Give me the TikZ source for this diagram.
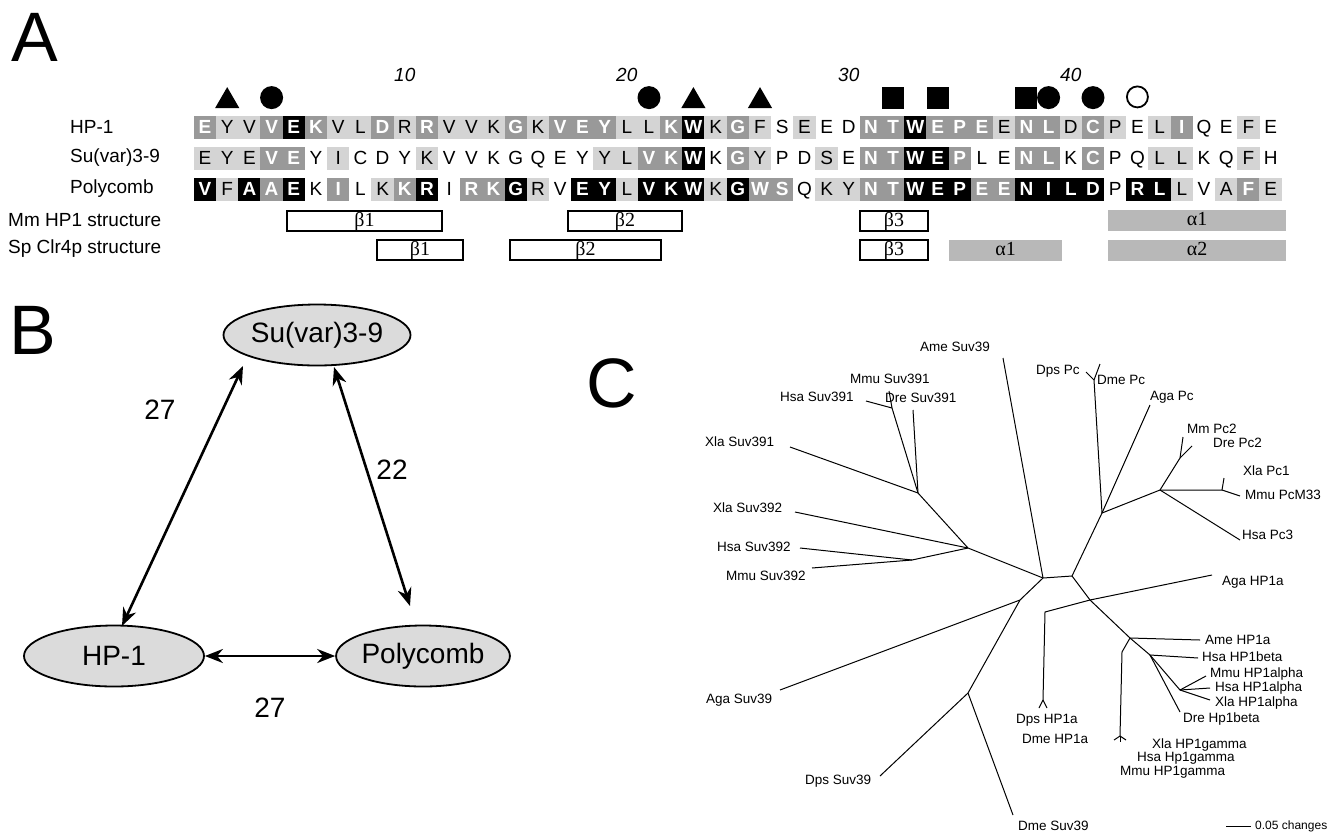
\documentclass[tikz,border=0pt]{standalone}
\usepackage{fontspec}
\setmainfont{Liberation Sans}
\newfontfamily\greekfont{Liberation Serif}
\usetikzlibrary{positioning,shapes.geometric,arrows.meta}
\definecolor{lightres}{gray}{0.83}
\definecolor{midres}{gray}{0.60}
\definecolor{helixgray}{gray}{0.72}
\definecolor{ovalgray}{gray}{0.86}
\tikzset{
cell/.style={rectangle, inner sep=0pt, minimum width=22.4pt, minimum height=23pt, text height=13.7pt, text depth=0pt, font=\fontsize{19}{20}\selectfont},
resW/.style={cell},
resL/.style={cell, fill=lightres},
resM/.style={cell, fill=midres, text=white, font=\fontsize{19}{20}\selectfont\bfseries},
resB/.style={cell, fill=black, text=white, font=\fontsize{19}{20}\selectfont\bfseries},
rowlabel/.style={anchor=west, inner sep=0pt, font=\fontsize{19}{22}\selectfont},
numlabel/.style={font=\fontsize{19}{22}\selectfont\itshape},
panel/.style={inner sep=0pt, font=\fontsize{70}{70}\selectfont},
tri/.style={regular polygon, regular polygon sides=3, fill=black, inner sep=0pt, minimum size=28pt},
dot/.style={circle, fill=black, inner sep=0pt, minimum size=23pt},
ring/.style={circle, draw=black, line width=1.8pt, inner sep=0pt, minimum size=21pt},
blk/.style={rectangle, fill=black, inner sep=0pt, minimum size=22pt},
strand/.style={rectangle, draw=black, line width=2pt, inner sep=0pt, minimum height=20pt, text height=13pt, text depth=2pt, font=\greekfont\fontsize{20}{20}\selectfont},
helix/.style={rectangle, fill=helixgray, inner sep=0pt, minimum height=21pt, text height=13pt, text depth=2pt, font=\greekfont\fontsize{20}{20}\selectfont},
protein/.style={ellipse, draw=black, line width=1.8pt, fill=ovalgray, inner sep=0pt, minimum height=61pt, font=\fontsize{28}{30}\selectfont},
link/.style={line width=2.6pt, {Stealth[length=18pt,width=14pt]}-{Stealth[length=18pt,width=14pt]}},
score/.style={font=\fontsize{28}{30}\selectfont},
branch/.style={draw, line width=1pt},
leaf/.style={anchor=west, inner sep=0pt, font=\fontsize{13.5}{14}\selectfont},
}

\begin{document}
\begin{tikzpicture}[x=1pt, y=-1pt]
\useasboundingbox (0,0) rectangle (1333,836);

% ---- A: alignment
\node[panel] (pA) at (35,37) {A};

\node[rowlabel] (lhp) at (70,127) {HP-1};
\node[rowlabel] (lsu) at (70,158) {Su(var)3-9};
\node[rowlabel] (lpc) at (70,189) {Polycomb};
\node[rowlabel] (lmm) at (8,220) {Mm HP1 structure};
\node[rowlabel] (lsp) at (8,249) {Sp Clr4p structure};

\foreach \r/\s [count=\i] in {E/M,Y/L,V/L,V/M,E/B,K/M,V/L,L/L,D/M,R/L,R/M,V/L,V/L,K/L,G/M,K/L,V/M,E/M,Y/M,L/L,L/L,K/M,W/B,K/L,G/M,F/L,S/W,E/L,E/W,D/W,N/M,T/M,W/B,E/M,P/M,E/M,E/L,N/M,L/M,D/L,C/M,P/L,E/W,L/L,I/M,Q/W,E/W,F/L,E/W}
  \node[res\s] (hp\i) at ({205+(\i-1)*22.2},127) {\r};
\foreach \r/\s [count=\i] in {E/L,Y/L,E/L,V/M,E/M,Y/W,I/L,C/W,D/W,Y/W,K/L,V/W,V/W,K/W,G/W,Q/W,E/W,Y/W,Y/L,L/L,V/M,K/M,W/B,K/W,G/M,Y/L,P/W,D/W,S/L,E/W,N/M,T/M,W/B,E/B,P/M,L/W,E/W,N/M,L/M,K/W,C/M,P/W,Q/W,L/L,L/L,K/W,Q/W,F/L,H/W}
  \node[res\s] (su\i) at ({205+(\i-1)*22.2},158) {\r};
\foreach \r/\s [count=\i] in {V/B,F/L,A/B,A/M,E/B,K/W,I/M,L/W,K/L,K/M,R/B,I/W,R/M,K/M,G/B,R/L,V/W,E/B,Y/B,L/L,V/B,K/B,W/B,K/L,G/B,W/M,S/M,Q/W,K/L,Y/L,N/M,T/M,W/B,E/B,P/B,E/M,E/M,N/B,I/B,L/B,D/B,P/W,R/B,L/B,L/L,V/W,A/L,F/M,E/L}
  \node[res\s] (pc\i) at ({205+(\i-1)*22.2},189) {\r};

% position numbers
\foreach \n in {10,20,30,40}
  \node[numlabel] (n\n) at ([yshift=52pt]hp\n) {\n};

% marked residues
\node[tri, above=7pt of hp2] (m2) {};
\node[dot, above=6pt of hp4] (m4) {};
\node[dot, above=6pt of hp21] (m21) {};
\node[tri, above=7pt of hp23] (m23) {};
\node[tri, above=7pt of hp26] (m26) {};
\node[blk, above=6pt of hp32] (m32) {};
\node[blk, above=6pt of hp34] (m34) {};
\node[blk, above=6pt of hp38] (m38) {};
\node[dot, above=6pt of hp39] (m39) {};
\node[dot, above=6pt of hp41] (m41) {};
\node[ring, above=7pt of hp43] (m43) {};

% secondary structure
\node[strand, minimum width=155pt] (mmb1) at (364.5,221) {β1};
\node[strand, minimum width=114pt] (mmb2) at (625,221) {β2};
\node[strand, minimum width=68pt] (mmb3) at (894,221) {β3};
\node[helix, minimum width=178pt] (mma1) at (1197,220) {α1};
\node[strand, minimum width=86pt] (spb1) at (420,250) {β1};
\node[strand, minimum width=151pt] (spb2) at (585.5,250) {β2};
\node[strand, minimum width=68pt] (spb3) at (894,250) {β3};
\node[helix, minimum width=113pt] (spa1) at (1005.5,250) {α1};
\node[helix, minimum width=178pt] (spa2) at (1197,250) {α2};

% ---- B: interaction scores
\node[panel] (pB) at (33,330) {B};
\node[protein, minimum width=145pt] (suv) at (317,335) {Su(var)3-9};
\node[protein, minimum width=180pt] (hp) at (114,656) {HP-1};
\node[protein, minimum width=160pt] (pcg) at (423,656) {Polycomb};
\coordinate (suvL) at (243,366);
\coordinate (suvR) at (334,367);
\coordinate (hpT) at (122,626);
\coordinate (pcgT) at (410,606);
\draw[link] (suvL) -- (hpT);
\draw[link] (suvR) -- (pcgT);
\draw[link] (hp.east) -- (pcg.west);
\node[score] (s1) at (160,410) {27};
\node[score] (s2) at (392,470) {22};
\node[score] (s3) at (270,708) {27};

% ---- C: tree
\node[panel] (pC) at (612,383) {C};
\coordinate (c0) at (1043,578);
\coordinate (c1) at (1072,576);
\coordinate (p0) at (1102,513);
\coordinate (p1) at (1094,380);
\coordinate (p3) at (1160,490);
\coordinate (p4) at (1180,458);
\coordinate (p5) at (1222,490);
\coordinate (h0) at (1090,600);
\coordinate (h1) at (1045,612);
\coordinate (h2) at (1130,638);
\coordinate (h3) at (1150,655);
\coordinate (h4) at (1180,690);
\coordinate (h5) at (1122,652);
\coordinate (h6) at (1120,736);
\coordinate (h7) at (1043,700);
\coordinate (s0) at (968,548);
\coordinate (s1) at (918,493);
\coordinate (s2) at (892,408);
\coordinate (s3) at (912,560);
\coordinate (s4) at (1020,600);
\coordinate (s5) at (968,693);
% tips
\coordinate (tAmeS) at (1003,358);
\coordinate (tDpsPc) at (1086,372);
\coordinate (tDmePc) at (1100,364);
\coordinate (tAgaPc) at (1150,405);
\coordinate (tMmPc) at (1183,437);
\coordinate (tDrePc) at (1192,446);
\coordinate (tXlaPc) at (1224,478);
\coordinate (tMmuPc) at (1240,496);
\coordinate (tHsaPc) at (1240,540);
\coordinate (tAgaH) at (1212,575);
\coordinate (tAmeH) at (1200,640);
\coordinate (tHsaHb) at (1198,658);
\coordinate (tMmuHa) at (1206,676);
\coordinate (tHsaHa) at (1210,688);
\coordinate (tXlaHa) at (1210,700);
\coordinate (tDreHb) at (1180,712);
\coordinate (tDpsH) at (1039,708);
\coordinate (tDmeH) at (1047,708);
\coordinate (tXlaHg) at (1126,740);
\coordinate (tHsaHg) at (1120,742);
\coordinate (tMmuHg) at (1114,740);
\coordinate (tMmuS1) at (889,391);
\coordinate (tHsaS1) at (866,401);
\coordinate (tDreS1) at (913,410);
\coordinate (tXlaS1) at (790,447);
\coordinate (tXlaS2) at (795,512);
\coordinate (tHsaS2) at (800,548);
\coordinate (tMmuS2) at (812,568);
\coordinate (tAgaS) at (780,690);
\coordinate (tDpsS) at (880,776);
\coordinate (tDmeS) at (1013,815);

\draw[branch] (c0) -- (tAmeS);
\draw[branch] (c0) -- (c1) -- (p0) -- (p1) -- (tDpsPc);
\draw[branch] (p1) -- (tDmePc);
\draw[branch] (p0) -- (tAgaPc);
\draw[branch] (p0) -- (p3) -- (p4) -- (tMmPc);
\draw[branch] (p4) -- (tDrePc);
\draw[branch] (p3) -- (p5) -- (tXlaPc);
\draw[branch] (p5) -- (tMmuPc);
\draw[branch] (p3) -- (tHsaPc);
\draw[branch] (c1) -- (h0) -- (tAgaH);
\draw[branch] (h0) -- (h1) -- (h7) -- (tDpsH);
\draw[branch] (h7) -- (tDmeH);
\draw[branch] (h0) -- (h2) -- (tAmeH);
\draw[branch] (h2) -- (h3) -- (tHsaHb);
\draw[branch] (h3) -- (h4) -- (tMmuHa);
\draw[branch] (h4) -- (tHsaHa);
\draw[branch] (h4) -- (tXlaHa);
\draw[branch] (h3) -- (tDreHb);
\draw[branch] (h2) -- (h5) -- (h6) -- (tXlaHg);
\draw[branch] (h6) -- (tHsaHg);
\draw[branch] (h6) -- (tMmuHg);
\draw[branch] (c0) -- (s0) -- (s1) -- (s2) -- (tMmuS1);
\draw[branch] (s2) -- (tHsaS1);
\draw[branch] (s1) -- (tDreS1);
\draw[branch] (s1) -- (tXlaS1);
\draw[branch] (s0) -- (tXlaS2);
\draw[branch] (s0) -- (s3) -- (tHsaS2);
\draw[branch] (s3) -- (tMmuS2);
\draw[branch] (c0) -- (s4) -- (tAgaS);
\draw[branch] (s4) -- (s5) -- (tDpsS);
\draw[branch] (s5) -- (tDmeS);

\node[leaf] (lAmeS) at (920,347) {Ame Suv39};
\node[leaf] (lDpsPc) at (1036,371) {Dps Pc};
\node[leaf] (lDmePc) at (1097,380) {Dme Pc};
\node[leaf] (lAgaPc) at (1150,397) {Aga Pc};
\node[leaf] (lMmPc) at (1187,429) {Mm Pc2};
\node[leaf] (lDrePc) at (1213,443) {Dre Pc2};
\node[leaf] (lXlaPc) at (1243,471) {Xla Pc1};
\node[leaf] (lMmuPc) at (1245,495) {Mmu PcM33};
\node[leaf] (lHsaPc) at (1242,535) {Hsa Pc3};
\node[leaf] (lMmuS1) at (850,379) {Mmu Suv391};
\node[leaf] (lHsaS1) at (780,397) {Hsa Suv391};
\node[leaf] (lDreS1) at (885,398) {Dre Suv391};
\node[leaf] (lXlaS1) at (705,442) {Xla Suv391};
\node[leaf] (lXlaS2) at (713,508) {Xla Suv392};
\node[leaf] (lHsaS2) at (717,547) {Hsa Suv392};
\node[leaf] (lMmuS2) at (726,576) {Mmu Suv392};
\node[leaf] (lAgaH) at (1222,582) {Aga HP1a};
\node[leaf] (lAmeH) at (1205,640) {Ame HP1a};
\node[leaf] (lHsaHb) at (1202,657) {Hsa HP1beta};
\node[leaf] (lMmuHa) at (1210,674) {Mmu HP1alpha};
\node[leaf] (lHsaHa) at (1215,688) {Hsa HP1alpha};
\node[leaf] (lXlaHa) at (1215,703) {Xla HP1alpha};
\node[leaf] (lDreHb) at (1183,719) {Dre Hp1beta};
\node[leaf] (lDpsH) at (1016,720) {Dps HP1a};
\node[leaf] (lDmeH) at (1022,739) {Dme HP1a};
\node[leaf] (lXlaHg) at (1152,745) {Xla HP1gamma};
\node[leaf] (lHsaHg) at (1137,758) {Hsa Hp1gamma};
\node[leaf] (lMmuHg) at (1120,772) {Mmu HP1gamma};
\node[leaf] (lAgaS) at (706,700) {Aga Suv39};
\node[leaf] (lDpsS) at (805,781) {Dps Suv39};
\node[leaf] (lDmeS) at (1018,826) {Dme Suv39};

% scale bar
\coordinate (bar) at (1226,826);
\node[leaf, font=\fontsize{12}{13}\selectfont] (lbar) at (1255,826) {0.05 changes};
\draw[branch] (bar) -- ([xshift=-4pt]lbar.west);
\end{tikzpicture}
\end{document}
